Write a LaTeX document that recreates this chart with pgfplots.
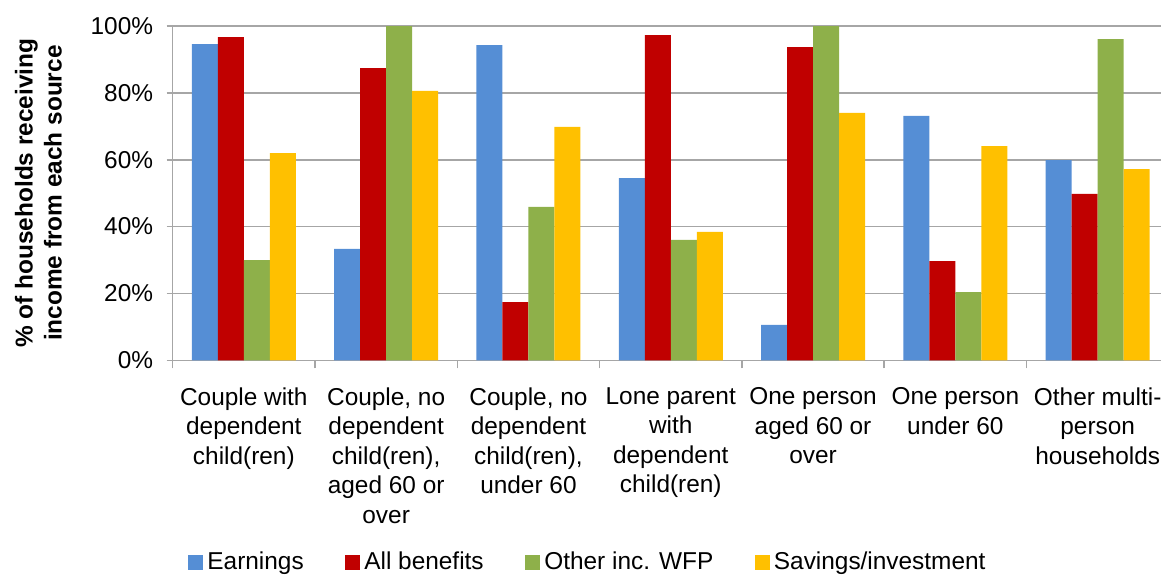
\documentclass[border=0pt]{standalone}
\usepackage{fontspec}
\setmainfont{Liberation Sans}
\usepackage{pgfplots}
\pgfplotsset{compat=1.18}
\definecolor{cEarn}{HTML}{558ED5}
\definecolor{cBen}{HTML}{C00000}
\definecolor{cOth}{HTML}{8EB04A}
\definecolor{cSav}{HTML}{FFC000}
\definecolor{cGrid}{HTML}{A6A6A6}
\newcommand{\lbl}{\fontsize{12.2}{14.8}\selectfont}
\begin{document}
\begin{tikzpicture}
\useasboundingbox (-86.35pt,-107.35pt) rectangle (494.15pt,180.15pt);
\begin{axis}[
  at={(0,0)}, anchor=south west,
  scale only axis, width=494.15pt, height=167.15pt,
  ybar=0pt, bar width=13pt,
  xmin=-0.5, xmax=6.445, ymin=0, ymax=100,
  axis x line*=bottom, axis y line*=left,
  axis line style={cGrid, line width=0.8pt},
  ymajorgrids, grid style={cGrid, line width=0.8pt},
  ytick={0,20,40,60,80,100},
  yticklabels={0\%,20\%,40\%,60\%,80\%,100\%},
  ytick align=outside, xtick align=outside,
  major tick length=3pt, minor tick length=4pt,
  tick style={cGrid, line width=0.8pt},
  xtick={0,1,2,3,4,5,6},
  major x tick style={draw=none},
  minor xtick={-0.5,0.5,1.5,2.5,3.5,4.5,5.5},
  xticklabels={{Couple with\\dependent\\child(ren)},
    {Couple, no\\dependent\\child(ren),\\aged 60 or\\over},
    {Couple, no\\dependent\\child(ren),\\under 60},
    {Lone parent\\with\\dependent\\child(ren)},
    {One person\\aged 60 or\\over},
    {One person\\under 60},
    {Other multi-\\person\\households}},
  x tick label style={align=center, font=\lbl, anchor=north, yshift=-7pt},
  y tick label style={font=\lbl, xshift=-3.3pt},
  ylabel={\% of households receiving\\income from each source},
  ylabel style={at={(axis description cs:-0.1358,0.5)}, anchor=center,
    align=center, font=\bfseries\fontsize{12.2}{14.5}\selectfont},
  legend image code/.code={\fill[#1,draw=none] (0pt,-3.75pt) rectangle (7.5pt,3.75pt);},
  legend style={at={(axis description cs:0.4212,-0.6034)}, anchor=center,
    draw=none, fill=none, font=\lbl, legend columns=-1,
    /tikz/every even column/.append style={column sep=18.8pt},
    /tikz/every odd column/.append style={column sep=0pt}},
  clip=false,
]
\addplot[fill=cEarn, draw=none] coordinates {(0,94.6) (1,33.3) (2,94.3) (3,54.5) (4,10.6) (5,73.1) (6,59.9)};
\addplot[fill=cBen, draw=none] coordinates {(0,96.7) (1,87.4) (2,17.4) (3,97.3) (4,93.7) (5,29.7) (6,49.8)};
\addplot[fill=cOth, draw=none] coordinates {(0,30.0) (1,100) (2,45.9) (3,36.0) (4,100) (5,20.4) (6,96.1)};
\addplot[fill=cSav, draw=none] coordinates {(0,62.0) (1,80.6) (2,69.8) (3,38.4) (4,74.0) (5,64.1) (6,57.2)};
\legend{Earnings, All benefits, Other inc. WFP, Savings/investment}
\end{axis}
\end{tikzpicture}
\end{document}
